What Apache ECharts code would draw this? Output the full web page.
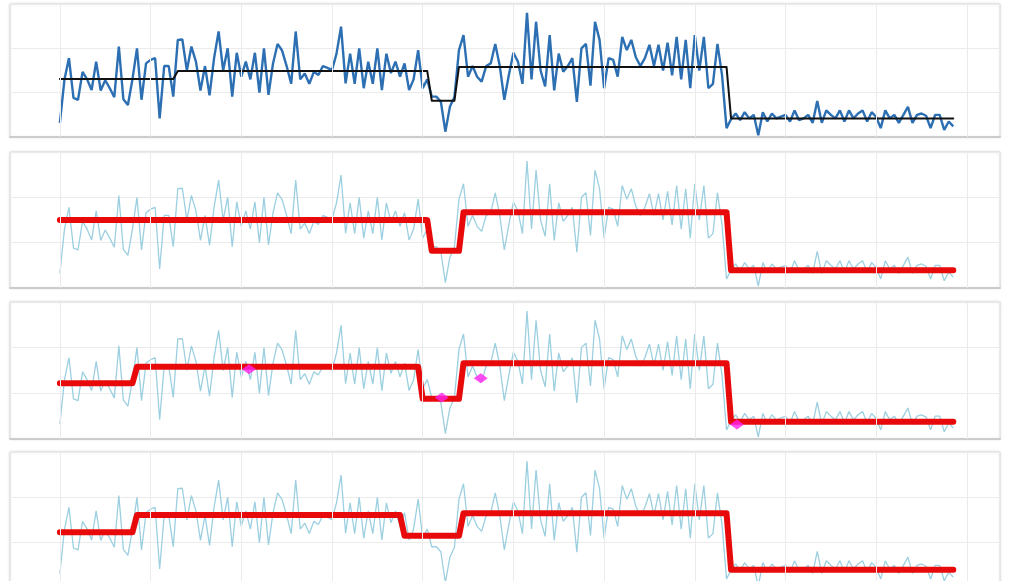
<!DOCTYPE html>
<html>
<head>
<meta charset="utf-8">
<script src="https://cdn.jsdelivr.net/npm/echarts@6/dist/echarts.min.js"></script>
<style>
  html, body { margin: 0; padding: 0; background: #ffffff; }
  #chart { width: 1009px; height: 581px; }
</style>
</head>
<body>
<div id="chart"></div>
<script>
// Observed signal, one value per sample (index 0..197)
const signal = [
  3.2, 12.9, 17.8, 8.8, 8.4, 14.7, 13, 10.6, 17, 10.5,
  12.8, 11, 9, 20.4, 8.5, 7.2, 13, 20, 8.4, 16.6,
  17.4, 17.8, 4.2, 16, 16, 9.1, 21.9, 22, 15, 20.4,
  17, 10.5, 16, 9.4, 17.8, 23.8, 15, 20, 9.1, 19,
  13.6, 17, 13, 19, 10, 20, 9.5, 16.6, 21, 19.5,
  16, 12, 23.8, 13, 14.3, 12, 14.7, 14, 16, 15.6,
  15.1, 18.8, 24.9, 12.1, 18.8, 12, 20, 11, 17, 12,
  20, 10.6, 18.8, 14.4, 17, 13.6, 16.6, 10.6, 13, 19.6,
  11, 13, 9.1, 9.1, 8, 1.2, 6.8, 9, 19.6, 23,
  13.6, 16, 13.6, 12.5, 16, 16.6, 21, 16, 8.4, 14,
  19, 17, 12, 28, 13, 26, 15, 11.4, 23, 10.5,
  18.8, 14.7, 16, 17.8, 7.9, 20, 21, 11.6, 26, 21.9,
  11, 17.8, 17.4, 13.6, 22.6, 19.6, 21.9, 18, 16, 17.8,
  20.8, 16, 20.8, 15, 21.3, 13.9, 22.6, 13, 21.9, 11,
  23, 15, 22.6, 11, 12, 21, 14, 2, 4, 5.3,
  3.8, 5.6, 4.2, 5, 0.4, 5.6, 3.5, 5.3, 4.2, 4.6,
  5, 3.5, 6, 3.8, 4.2, 5, 3.2, 8.1, 3.2, 6,
  5, 4.2, 6, 3.5, 6, 4.2, 5.3, 6, 3.5, 5.6,
  4.5, 2, 6, 4.2, 5, 3.2, 5, 6.8, 3.2, 5,
  5.3, 4.8, 2, 5, 5, 1.6, 3.5, 2.4
];

// Piecewise-constant fits: last sample index of each segment and its level
const fit1Ends = [25, 81, 87, 147, 197];
const fit1Levels = [13.1, 14.9, 8.2, 15.8, 4.2];

const fit2Ends = [81, 88, 147, 197];
const fit2Levels = [15.0, 8.2, 16.7, 3.9];

const fit3Ends = [16, 79, 88, 147, 197];
const fit3Levels = [12.2, 15.8, 8.8, 16.6, 3.8];

const fit4Ends = [16, 75, 88, 147, 197];
const fit4Levels = [12.3, 16.1, 11.5, 16.5, 4.0];

// Highlighted points in the third panel: [sample index, value]
const marks3 = [[41.7, 15.3], [84.2, 9.1], [92.8, 13.3], [149.3, 3.2]];

// Vertical reference lines (sample index)
const xGridValues = [0, 20, 40, 60, 80, 100, 120, 140, 160, 180, 200];

function expandFit(ends, levels) {
  const out = [];
  let start = 0;
  ends.forEach((end, k) => {
    for (let i = start; i <= end; i++) out.push([i, levels[k]]);
    start = end + 1;
  });
  return out;
}

const signalData = signal.map((v, i) => [i, v]);

// Panel boxes; the last one runs past the bottom edge of the page
const panels = [
  { top: 4,   height: 133 },
  { top: 152, height: 136 },
  { top: 302, height: 137 },
  { top: 452, height: 136 }
];

const grids = panels.map(p => Object.assign({
  left: 10, width: 990,
  outerBoundsMode: 'none', containLabel: false,
  show: true, backgroundColor: '#ffffff',
  borderColor: '#dadada', borderWidth: 1,
  shadowColor: 'rgba(0,0,0,0.10)', shadowBlur: 3
}, p));

const xAxes = panels.map((p, k) => ({
  gridIndex: k, type: 'value', min: -11, max: 207.3,
  axisLine: { show: true, onZero: false, lineStyle: { color: '#cccccc', width: 2 } },
  axisTick: { show: false }, axisLabel: { show: false },
  splitLine: { show: false }
}));

const yAxes = panels.map((p, k) => ({
  gridIndex: k, type: 'value', min: 0, max: 30, interval: 10,
  axisLine: { show: false }, axisTick: { show: false }, axisLabel: { show: false },
  splitLine: { show: true, lineStyle: { color: '#ebebeb', width: 1 } }
}));

const series = [];
const fits = [
  { ends: fit1Ends, levels: fit1Levels, color: '#111111', width: 2 },
  { ends: fit2Ends, levels: fit2Levels, color: '#e80a0a', width: 6 },
  { ends: fit3Ends, levels: fit3Levels, color: '#e80a0a', width: 6 },
  { ends: fit4Ends, levels: fit4Levels, color: '#e80a0a', width: 6 }
];

panels.forEach((p, k) => {
  // vertical grid lines
  series.push({
    type: 'line', xAxisIndex: k, yAxisIndex: k, data: [], z: 1, silent: true,
    markLine: {
      silent: true, symbol: 'none', animation: false,
      label: { show: false },
      lineStyle: { color: '#ebebeb', type: 'solid', width: 1 },
      emphasis: { disabled: true },
      data: xGridValues.map(v => ({ xAxis: v }))
    }
  });
  // signal
  series.push({
    type: 'line', xAxisIndex: k, yAxisIndex: k, z: 2,
    data: signalData, showSymbol: false, silent: true,
    lineStyle: k === 0
      ? { color: '#2c6fb2', width: 2.4 }
      : { color: '#9ccfe0', width: 1.3 }
  });
  // fitted step line
  const f = fits[k];
  series.push({
    type: 'line', xAxisIndex: k, yAxisIndex: k, z: 3,
    data: expandFit(f.ends, f.levels), showSymbol: false, silent: true,
    lineStyle: { color: f.color, width: f.width, join: 'round', cap: 'round' }
  });
});

series.push({
  type: 'scatter', xAxisIndex: 2, yAxisIndex: 2, z: 4, silent: true,
  data: marks3, symbol: 'diamond', symbolSize: [14, 10],
  itemStyle: { color: '#ff22ee' }
});

const chart = echarts.init(document.getElementById('chart'), null, { renderer: 'canvas' });
chart.setOption({
  animation: false,
  backgroundColor: '#ffffff',
  grid: grids,
  xAxis: xAxes,
  yAxis: yAxes,
  series: series
});
</script>
</body>
</html>
